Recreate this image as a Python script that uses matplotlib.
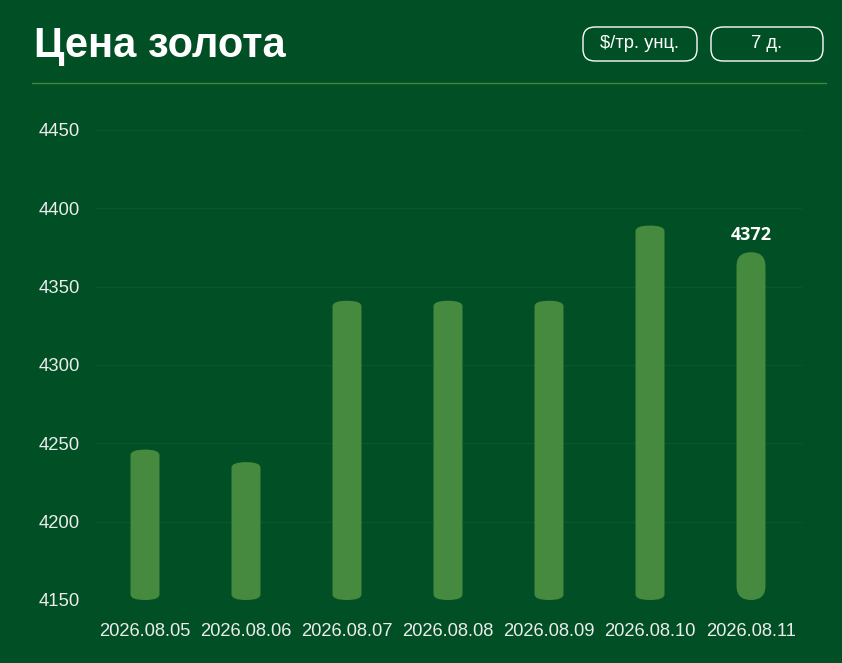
import matplotlib
matplotlib.use("Agg")
import matplotlib.pyplot as plt
from matplotlib.patches import FancyBboxPatch

dates = ["2026.08.05", "2026.08.06", "2026.08.07", "2026.08.08",
         "2026.08.09", "2026.08.10", "2026.08.11"]
prices = [4246, 4238, 4341, 4341, 4341, 4389, 4372]
yticks = [4150, 4200, 4250, 4300, 4350, 4400, 4450]

bg = "#014f24"
bar_col = "#458a3f"

plt.rcParams["font.family"] = ["Liberation Sans", "DejaVu Sans"]

fig = plt.figure(figsize=(8.42, 6.63), dpi=100, facecolor=bg)
ax = fig.add_axes([94.5 / 842, 1 - 600 / 663, 707 / 842, 470 / 663])
ax.set_facecolor(bg)

x = list(range(len(dates)))
bars = ax.bar(x, [p - 4150 for p in prices], bottom=4150, width=0.287, color=bar_col)

# swap plain rectangles for rounded ones
for i, b in enumerate(bars):
    bx, by, bw, bh = b.get_x(), b.get_y(), b.get_width(), b.get_height()
    b.set_visible(False)
    last = i == len(bars) - 1
    cap = 9.0 if last else 3.5   # cap height in data units
    r = bw / 2
    p = FancyBboxPatch((bx, by), bw, bh,
                       boxstyle="round,pad=0,rounding_size=%f" % r,
                       mutation_aspect=cap / r,
                       fc=bar_col, ec="none", clip_on=False)
    ax.add_patch(p)

ax.set_xlim(-0.5, len(dates) - 0.5)
ax.set_ylim(4150, 4450)
ax.set_yticks(yticks)
ax.set_yticklabels([str(t) for t in yticks])
ax.set_xticks(x)
ax.set_xticklabels(dates)
ax.tick_params(axis="y", length=0, pad=40.5, labelsize=13.3, labelcolor="#ececec")
ax.tick_params(axis="x", length=0, pad=16.5, labelsize=13.2, labelcolor="#ececec")
for lab in ax.get_yticklabels():
    lab.set_horizontalalignment("left")
ax.grid(axis="y", color="#0a5829", linewidth=1)
ax.set_axisbelow(True)
for s in ax.spines.values():
    s.set_visible(False)

ax.text(x[-1], prices[-1] + 5, str(prices[-1]), ha="center", va="bottom",
        color="white", fontsize=13, fontweight="bold",
        family=["Open Sans", "Lato", "DejaVu Sans"])

# header
fig.text(34 / 842, 1 - 57 / 663, "Цена золота", ha="left", va="baseline",
         color="white", fontsize=30, fontweight="bold")
fig.add_artist(plt.Line2D([32 / 842, 826 / 842], [1 - 83 / 663, 1 - 83 / 663],
                          color="#3f8a3a", linewidth=1))

buttons = [("$/тр. унц.", 583, 697), ("7 д.", 711, 823)]
for txt, x0, x1 in buttons:
    y0, y1 = 27, 61
    pill = FancyBboxPatch((x0, 663 - y1), x1 - x0, y1 - y0,
                          boxstyle="round,pad=0,rounding_size=12",
                          fc="none", ec="white", lw=1,
                          transform=None)
    fig.add_artist(pill)
    fig.text((x0 + x1) / 2 / 842, 1 - 44 / 663, txt, ha="center", va="center",
             color="white", fontsize=13.2)

fig.savefig("out.png", dpi=100, facecolor=bg)
